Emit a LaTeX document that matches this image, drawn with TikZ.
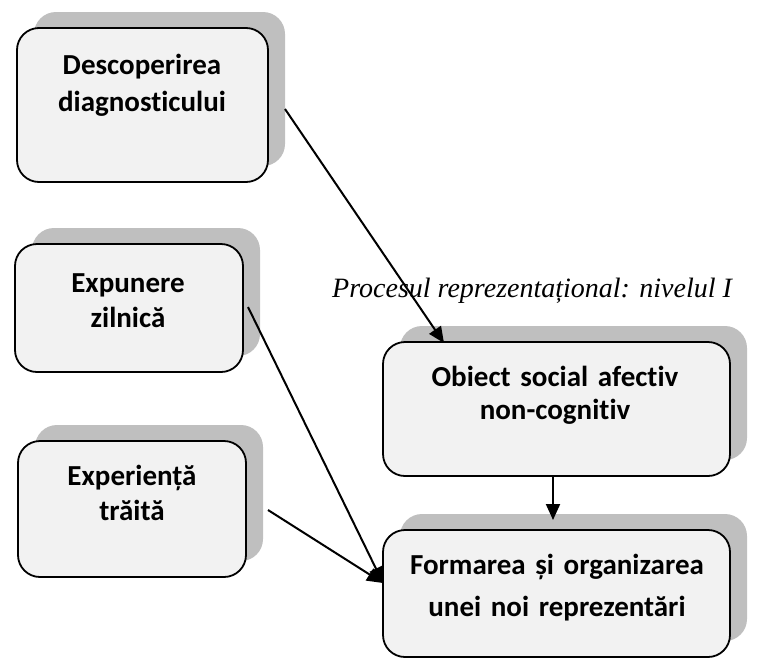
\documentclass[tikz,border=0pt]{standalone}
\usepackage{fontspec}
\setmainfont{Carlito}[Ligatures=NoCommon]
\newfontfamily\timesit{Liberation Serif}
\usetikzlibrary{shadows,arrows.meta,calc}
\definecolor{boxfill}{HTML}{F2F2F2}
\definecolor{shadowgray}{HTML}{BFBFBF}
\begin{document}
\begin{tikzpicture}[x=1pt,y=-1pt,
  card/.style={draw=black, line width=1.8pt, fill=boxfill, rounded corners=22pt, inner sep=0pt,
     drop shadow={shadow xshift=17pt, shadow yshift=16pt, fill=shadowgray, opacity=1}},
  cardtext/.style={font=\bfseries\fontsize{29}{#1}\selectfont, align=center, text width=360pt, anchor=base, inner sep=0pt},
  conn/.style={line width=2pt, -{Triangle[length=16pt,width=14pt]}}]
\useasboundingbox (0,0) rectangle (762,659);
% boxes
\node[card, minimum width=251pt, minimum height=154pt] (a) at (142.5,105) {};
\node[card, minimum width=228pt, minimum height=128pt] (b) at (129,308) {};
\node[card, minimum width=228pt, minimum height=136pt] (c) at (132,509) {};
\node[card, minimum width=347pt, minimum height=134pt] (d) at (556.5,409) {};
\node[card, minimum width=347pt, minimum height=127pt] (e) at (556.5,593.5) {};
% texts
\node[cardtext=36.5] (ta) at (142,74.5) {Descoperirea\\diagnosticului};
\node[cardtext=35] (tb) at (128,292) {Expunere\\zilnică};
\node[cardtext=35] (tc) at (132,485) {Experiență\\trăită};
\node[cardtext=33] (td) at (555,386) {Obiect social afectiv\\non-cognitiv};
\node[cardtext=42] (te) at (557,574) {Formarea și organizarea\\unei noi reprezentări};
\node[font=\timesit\itshape\fontsize{28}{34}\selectfont, anchor=base west, inner sep=0pt] (title) at (332,297) {Procesul reprezentațional: nivelul I};
% connectors
\coordinate (a-out) at (285,109);
\coordinate (d-in) at (444,343);
\coordinate (b-out) at (248,307);
\coordinate (c-out) at (268,510);
\coordinate (e-in) at (383,583);
\coordinate (d-out) at (553,476);
\coordinate (e-top) at (553,520);
\draw[conn] (a-out) -- (d-in);
\draw[conn] (b-out) -- (e-in);
\draw[conn] (c-out) -- (e-in);
\draw[conn] (d-out) -- (e-top);
\end{tikzpicture}
\end{document}
